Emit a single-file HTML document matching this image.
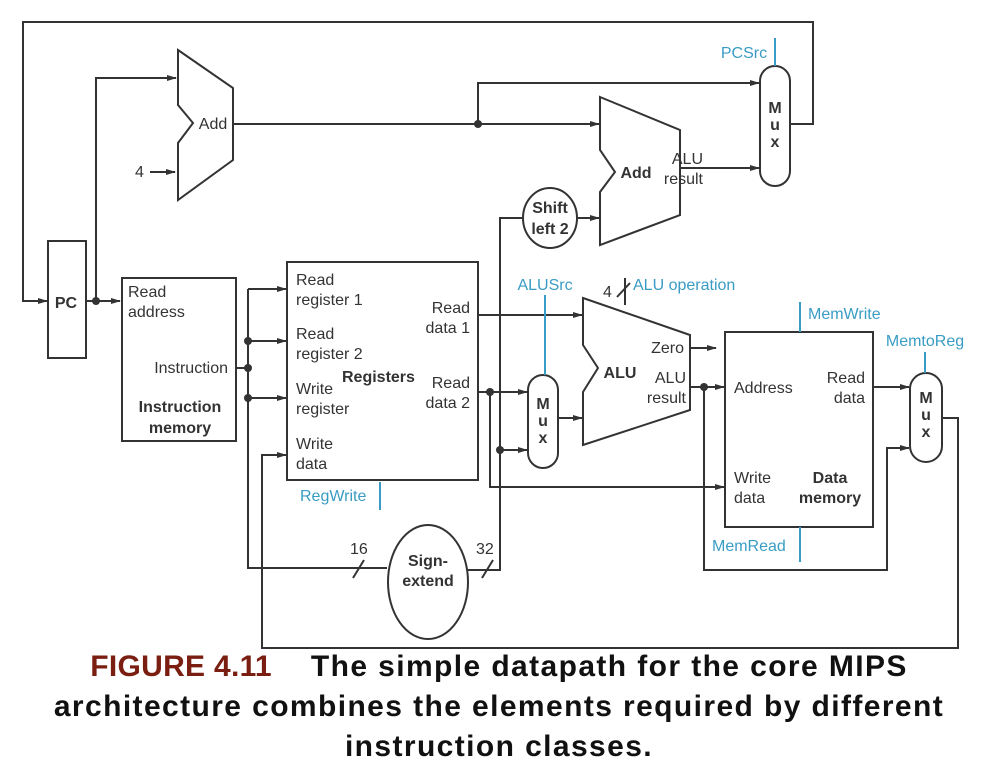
<!DOCTYPE html>
<html><head><meta charset="utf-8"><style>
html,body{margin:0;padding:0;background:#fff;}
svg{display:block}
text{font-family:"Liberation Sans",Arial,sans-serif;fill:#333;}
.b{font-weight:bold;}
.c{fill:#3a9cc4;}
.cap{font-family:"Liberation Sans",Arial,sans-serif;font-weight:bold;font-size:30px;letter-spacing:1.4px;text-align:center;position:absolute;left:0;width:998px;line-height:40px;top:647px;color:#111;white-space:nowrap}
</style></head><body>
<div style="position:relative;width:998px;height:768px;overflow:hidden">
<svg width="998" height="768" viewBox="0 0 998 768">
<defs><marker id="a" markerWidth="10" markerHeight="8" refX="9" refY="4" orient="auto" markerUnits="userSpaceOnUse"><path d="M0,1 L10,4 L0,7 z" fill="#333"/></marker></defs>
<g stroke="#333" stroke-width="2" fill="none">
<polyline points="790,124 813,124 813,22 23,22 23,301 47,301" marker-end="url(#a)"/>
<rect x="48" y="241" width="38" height="117" fill="#fff"/>
<line x1="86" y1="301" x2="120" y2="301" marker-end="url(#a)"/>
<polyline points="96,301 96,78 176,78" marker-end="url(#a)"/>
<polygon points="178,50 233,88 233,160 178,200 178,143 193,123 178,105" fill="#fff"/>
<line x1="150" y1="172" x2="175" y2="172" marker-end="url(#a)"/>
<line x1="233" y1="124" x2="599" y2="124" marker-end="url(#a)"/>
<polyline points="478,124 478,83 759,83" marker-end="url(#a)"/>
<polygon points="600,97 680,130 680,215 600,245 600,192 615,172 600,150" fill="#fff"/>
<line x1="680" y1="168" x2="759" y2="168" marker-end="url(#a)"/>
<rect x="760" y="66" width="30" height="120" rx="15" fill="#fff"/>
<ellipse cx="550" cy="218" rx="27" ry="30" fill="#fff"/>
<line x1="577" y1="218" x2="599" y2="218" marker-end="url(#a)"/>
<polyline points="523,218 500,218 500,570 468,570"/>
<rect x="122" y="278" width="114" height="163" fill="#fff"/>
<polyline points="236,368 248,368"/>
<polyline points="248,289 248,568 387,568" />
<line x1="248" y1="289" x2="286" y2="289" marker-end="url(#a)"/>
<line x1="248" y1="341" x2="286" y2="341" marker-end="url(#a)"/>
<line x1="248" y1="398" x2="286" y2="398" marker-end="url(#a)"/>
<rect x="287" y="262" width="191" height="218" fill="#fff"/>
<polyline points="942,418 958,418 958,648 262,648 262,455 286,455" marker-end="url(#a)"/>
<ellipse cx="428" cy="582" rx="40" ry="57" fill="#fff"/>
<line x1="353" y1="578" x2="364" y2="560"/>
<line x1="482" y1="578" x2="493" y2="560"/>
<line x1="478" y1="315" x2="582" y2="315" marker-end="url(#a)"/>
<line x1="478" y1="392" x2="527" y2="392" marker-end="url(#a)"/>
<polyline points="490,392 490,487 724,487" marker-end="url(#a)"/>
<line x1="500" y1="450" x2="527" y2="450" marker-end="url(#a)"/>
<rect x="528" y="375" width="30" height="93" rx="15" fill="#fff"/>
<line x1="558" y1="418" x2="582" y2="418" marker-end="url(#a)"/>
<polygon points="583,298 690,335 690,410 583,445 583,392 598,368 583,345" fill="#fff"/>
<line x1="690" y1="348" x2="716" y2="348" marker-end="url(#a)"/>
<line x1="690" y1="387" x2="724" y2="387" marker-end="url(#a)"/>
<polyline points="704,387 704,570 887,570 887,448 909,448" marker-end="url(#a)"/>
<line x1="617" y1="297" x2="630" y2="283"/>
<rect x="725" y="332" width="148" height="195" fill="#fff"/>
<line x1="873" y1="387" x2="909" y2="387" marker-end="url(#a)"/>
<rect x="910" y="373" width="32" height="89" rx="16" fill="#fff"/>
</g>
<g stroke="#3a9cc4" stroke-width="2">
<line x1="775" y1="38" x2="775" y2="66"/>
<line x1="545" y1="295" x2="545" y2="375"/>
<line x1="625" y1="278" x2="625" y2="305" stroke="#333"/>
<line x1="800" y1="302" x2="800" y2="332"/>
<line x1="800" y1="527" x2="800" y2="562"/>
<line x1="925" y1="352" x2="925" y2="373"/>
<line x1="380" y1="482" x2="380" y2="510"/>
</g>
<g fill="#333">
<circle cx="96" cy="301" r="4"/><circle cx="478" cy="124" r="4"/>
<circle cx="248" cy="368" r="4"/><circle cx="248" cy="341" r="4"/><circle cx="248" cy="398" r="4"/>
<circle cx="490" cy="392" r="4"/><circle cx="500" cy="450" r="4"/><circle cx="704" cy="387" r="4"/>
</g>
<g font-size="16">
<text x="66" y="308" class="b" text-anchor="middle">PC</text>
<text x="213" y="129" text-anchor="middle">Add</text>
<text x="135" y="177">4</text>
<text x="636" y="178" class="b" text-anchor="middle">Add</text>
<text x="703" y="164" text-anchor="end">ALU</text>
<text x="703" y="184" text-anchor="end">result</text>
<g class="b" text-anchor="middle"><text x="775" y="113">M</text><text x="775" y="130">u</text><text x="775" y="147">x</text>
<text x="543" y="409">M</text><text x="543" y="426">u</text><text x="543" y="443">x</text>
<text x="926" y="403">M</text><text x="926" y="420">u</text><text x="926" y="437">x</text></g>
<text x="550" y="213" class="b" text-anchor="middle">Shift</text>
<text x="550" y="234" class="b" text-anchor="middle">left 2</text>
<text x="128" y="297">Read</text><text x="128" y="317">address</text>
<text x="228" y="373" text-anchor="end">Instruction</text>
<text x="180" y="412" class="b" text-anchor="middle">Instruction</text>
<text x="180" y="433" class="b" text-anchor="middle">memory</text>
<text x="296" y="285">Read</text><text x="296" y="305">register 1</text>
<text x="296" y="339">Read</text><text x="296" y="359">register 2</text>
<text x="296" y="394">Write</text><text x="296" y="414">register</text>
<text x="296" y="449">Write</text><text x="296" y="469">data</text>
<text x="342" y="382" class="b">Registers</text>
<text x="470" y="313" text-anchor="end">Read</text><text x="470" y="333" text-anchor="end">data 1</text>
<text x="470" y="388" text-anchor="end">Read</text><text x="470" y="408" text-anchor="end">data 2</text>
<text x="428" y="566" class="b" text-anchor="middle">Sign-</text>
<text x="428" y="586" class="b" text-anchor="middle">extend</text>
<text x="350" y="554">16</text><text x="476" y="554">32</text>
<text x="620" y="378" class="b" text-anchor="middle">ALU</text>
<text x="684" y="353" text-anchor="end">Zero</text>
<text x="686" y="383" text-anchor="end">ALU</text><text x="686" y="403" text-anchor="end">result</text>
<text x="603" y="297">4</text>
<text x="734" y="393">Address</text>
<text x="865" y="383" text-anchor="end">Read</text><text x="865" y="403" text-anchor="end">data</text>
<text x="734" y="483">Write</text><text x="734" y="503">data</text>
<text x="830" y="483" class="b" text-anchor="middle">Data</text>
<text x="830" y="503" class="b" text-anchor="middle">memory</text>
<text x="744" y="58" class="c" text-anchor="middle">PCSrc</text>
<text x="545" y="290" class="c" text-anchor="middle">ALUSrc</text>
<text x="633" y="290" class="c">ALU operation</text>
<text x="808" y="319" class="c">MemWrite</text>
<text x="925" y="346" class="c" text-anchor="middle">MemtoReg</text>
<text x="712" y="551" class="c">MemRead</text>
<text x="300" y="501" class="c">RegWrite</text>
</g>
</svg>
<div class="cap"><span style="color:#7a1e12;letter-spacing:0.3px">FIGURE 4.11</span>&nbsp;&nbsp;&nbsp; The simple datapath for the core MIPS<br>architecture combines the elements required by different<br>instruction classes.</div>
</div>
</body></html>
